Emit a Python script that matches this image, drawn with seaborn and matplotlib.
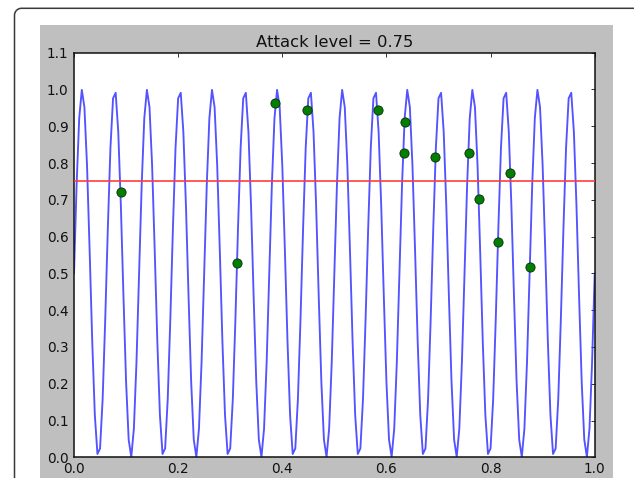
import numpy as np
import pandas as pd
import matplotlib
matplotlib.use("Agg")
import matplotlib.pyplot as plt
from matplotlib.patches import Rectangle
from matplotlib.lines import Line2D
from matplotlib.ticker import FormatStrFormatter
import seaborn as sns

# ---------------- data ----------------
title_text = "Attack level = 0.75"
attack_level = 0.75

wave_y = [
    0.500, 0.741, 0.922, 0.999, 0.952, 0.794, 0.563, 0.316, 0.115, 0.009, 0.024, 0.158, 0.376,
    0.624, 0.842, 0.976, 0.991, 0.885, 0.684, 0.437, 0.206, 0.048, 0.001, 0.078, 0.259,
    0.500, 0.741, 0.922, 0.999, 0.952, 0.794, 0.563, 0.316, 0.115, 0.009, 0.024, 0.158, 0.376,
    0.624, 0.842, 0.976, 0.991, 0.885, 0.684, 0.437, 0.206, 0.048, 0.001, 0.078, 0.259,
    0.500, 0.741, 0.922, 0.999, 0.952, 0.794, 0.563, 0.316, 0.115, 0.009, 0.024, 0.158, 0.376,
    0.624, 0.842, 0.976, 0.991, 0.885, 0.684, 0.437, 0.206, 0.048, 0.001, 0.078, 0.259,
    0.500, 0.741, 0.922, 0.999, 0.952, 0.794, 0.563, 0.316, 0.115, 0.009, 0.024, 0.158, 0.376,
    0.624, 0.842, 0.976, 0.991, 0.885, 0.684, 0.437, 0.206, 0.048, 0.001, 0.078, 0.259,
    0.500, 0.741, 0.922, 0.999, 0.952, 0.794, 0.563, 0.316, 0.115, 0.009, 0.024, 0.158, 0.376,
    0.624, 0.842, 0.976, 0.991, 0.885, 0.684, 0.437, 0.206, 0.048, 0.001, 0.078, 0.259,
    0.500, 0.741, 0.922, 0.999, 0.952, 0.794, 0.563, 0.316, 0.115, 0.009, 0.024, 0.158, 0.376,
    0.624, 0.842, 0.976, 0.991, 0.885, 0.684, 0.437, 0.206, 0.048, 0.001, 0.078, 0.259,
    0.500, 0.741, 0.922, 0.999, 0.952, 0.794, 0.563, 0.316, 0.115, 0.009, 0.024, 0.158, 0.376,
    0.624, 0.842, 0.976, 0.991, 0.885, 0.684, 0.437, 0.206, 0.048, 0.001, 0.078, 0.259,
    0.500, 0.741, 0.922, 0.999, 0.952, 0.794, 0.563, 0.316, 0.115, 0.009, 0.024, 0.158, 0.376,
    0.624, 0.842, 0.976, 0.991, 0.885, 0.684, 0.437, 0.206, 0.048, 0.001, 0.078, 0.259,
    0.500,
]
wave_x = np.linspace(0.0, 1.0, len(wave_y))

point_x = [0.090, 0.313, 0.386, 0.448, 0.584, 0.635, 0.633, 0.694, 0.758, 0.778, 0.814, 0.837, 0.875]
point_y = [0.720, 0.529, 0.962, 0.945, 0.945, 0.911, 0.828, 0.816, 0.828, 0.703, 0.585, 0.774, 0.517]

x_ticks = [0.0, 0.2, 0.4, 0.6, 0.8, 1.0]
y_ticks = [0.0, 0.1, 0.2, 0.3, 0.4, 0.5, 0.6, 0.7, 0.8, 0.9, 1.0, 1.1]

# ---------------- style ----------------
sns.set_theme(style="white")
plt.rcParams["font.family"] = ["DejaVu Sans"]

W, H = 634, 478
fig = plt.figure(figsize=(W / 100, H / 100), dpi=100)
fig.patch.set_facecolor("white")

# gray figure panel
gray = Rectangle((40 / W, 0), (613 - 40) / W, (H - 25) / H, transform=fig.transFigure,
                 facecolor="#bfbfbf", edgecolor="none", zorder=0)
fig.add_artist(gray)

# outer frame with rounded top-left corner (pixel-based, converted to figure fraction)
fx, fy, r = 14.5, H - 8.3, 7.0
theta = np.linspace(np.pi, np.pi / 2, 12)
arc_x = list(fx + r + r * np.cos(theta))
arc_y = list(fy - r + r * np.sin(theta))
px = [fx] + arc_x + [W + 5]
py = [-5] + arc_y + [fy]
frame = Line2D([p / W for p in px], [p / H for p in py], transform=fig.transFigure,
               color="#3a3a3a", linewidth=1.1, zorder=0.5)
fig.add_artist(frame)

ax = fig.add_axes([74 / W, (H - 457.3) / H, (594.7 - 74) / W, (457.3 - 52.7) / H])
ax.set_facecolor("white")

df_wave = pd.DataFrame({"x": wave_x, "y": wave_y})
df_pts = pd.DataFrame({"x": point_x, "y": point_y})

sns.lineplot(data=df_wave, x="x", y="y", ax=ax, color="#3535ff", linewidth=1.35,
             estimator=None, sort=False, alpha=0.85, zorder=2)
ax.axhline(attack_level, color="#ff3a3a", linewidth=1.3, alpha=0.9, zorder=3)
sns.scatterplot(data=df_pts, x="x", y="y", ax=ax, color="#007f00", edgecolor="#0a2a0a",
                linewidth=0.6, s=44, zorder=4)

ax.set_xlim(0, 1)
ax.set_ylim(0, 1.1)
ax.set_xticks(x_ticks)
ax.set_yticks(y_ticks)
ax.xaxis.set_major_formatter(FormatStrFormatter("%.1f"))
ax.yaxis.set_major_formatter(FormatStrFormatter("%.1f"))
ax.set_xlabel("")
ax.set_ylabel("")
ax.tick_params(direction="in", top=True, right=True, length=2.8, width=0.6,
               labelsize=9.8, colors="#111111", pad=4)
ax.tick_params(axis="x", pad=3.5)
for sp in ax.spines.values():
    sp.set_visible(True)
    sp.set_color("#111111")
    sp.set_linewidth(1.1)

ax.set_title(title_text, fontsize=11.8, color="#111111", pad=4)

fig.savefig("out.png", dpi=100)
